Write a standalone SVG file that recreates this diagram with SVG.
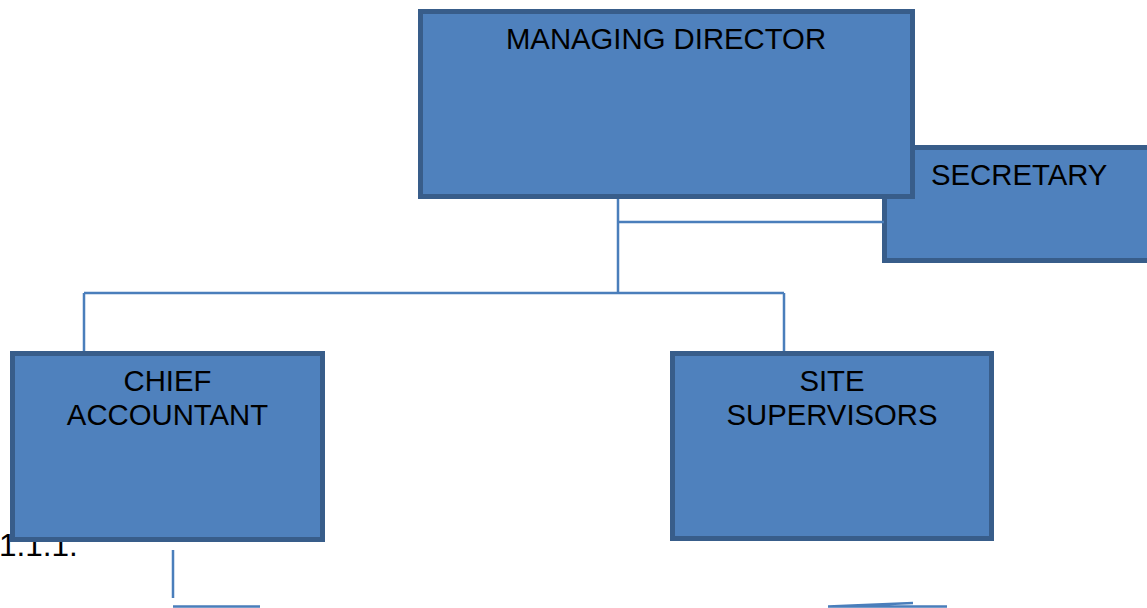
<svg xmlns="http://www.w3.org/2000/svg" width="1147" height="608" viewBox="0 0 1147 608">
<style>
.box{fill:#4f81bd;stroke:#385d8a;stroke-width:5}
.lbl{font-family:"Liberation Sans",Arial,sans-serif;font-size:29.3px;fill:#000}
.c{text-anchor:middle}
.ln{fill:none;stroke:#4a7ebb;stroke-width:2.5}
</style>
<rect width="1147" height="608" fill="#fff"/>
<text class="lbl" x="-1" y="556" style="font-size:31.5px">1.1.1.</text>
<g id="secretary">
<rect class="box" x="884.5" y="147.5" width="270" height="113"/>
<text class="lbl" x="931" y="185">SECRETARY</text>
</g>
<g id="connectors">
<path class="ln" d="M618 198V293M618 222H884M84 293H784M84 293V362M784 293V362"/>
<path class="ln" d="M173 550V598M173 606.5H260M828 606.5H947M828 606.5L913 603"/>
</g>
<g id="managing-director">
<rect class="box" x="420.5" y="11.5" width="492" height="185"/>
<text class="lbl c" x="666" y="49">MANAGING DIRECTOR</text>
</g>
<g id="chief-accountant">
<rect class="box" x="12.5" y="353.5" width="310" height="186"/>
<text class="lbl c" x="167.5" y="391">CHIEF</text>
<text class="lbl c" x="167.5" y="425">ACCOUNTANT</text>
</g>
<g id="site-supervisors">
<rect class="box" x="672.5" y="353.5" width="319" height="185"/>
<text class="lbl c" x="832" y="391">SITE</text>
<text class="lbl c" x="832" y="425">SUPERVISORS</text>
</g>
</svg>
